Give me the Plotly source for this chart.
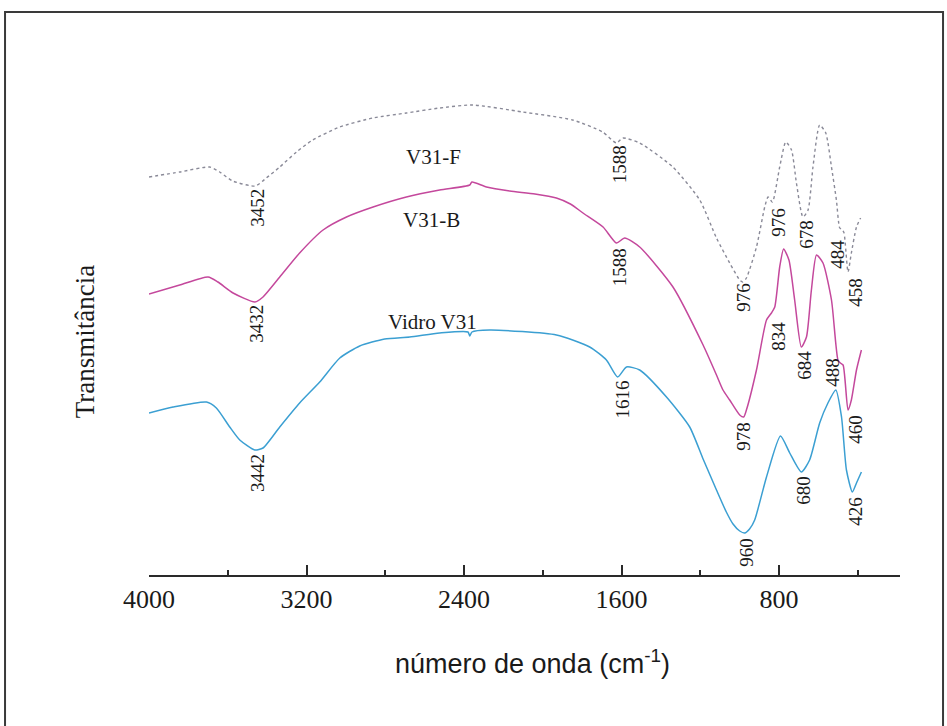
import plotly.graph_objects as go

# ---- data (wavenumber cm-1, transmittance in arbitrary units) ----
f_wn = [4000, 3844, 3692, 3641, 3575, 3460, 3404, 3336, 3251, 3169, 3031, 2864, 2693, 2524, 2356,
        2102, 1848, 1696, 1626, 1594, 1508, 1340, 1203, 1118, 1051, 1000, 985, 966, 915, 873, 856,
        834, 797, 766, 737, 712, 679, 653, 628, 594, 563, 534, 509, 492, 478, 470, 450, 433, 407, 386]
f_t = [398, 403, 408, 403, 394, 389, 397, 408, 423, 435, 448, 457, 462, 467, 470,
       463, 455, 443, 432, 437, 432, 408, 375, 337, 312, 295, 293, 297, 328, 368, 378,
       373, 408, 433, 425, 392, 358, 365, 408, 450, 442, 408, 375, 347, 345, 342, 303, 322, 348, 357]

b_wn = [4000, 3844, 3700, 3650, 3573, 3462, 3421, 3336, 3235, 3116, 2997, 2862, 2693, 2524, 2371,
        2360, 2286, 2168, 2040, 1931, 1860, 1796, 1694, 1626, 1584, 1508, 1339, 1186, 1118, 1085,
        1051, 1000, 980, 966, 915, 864, 839, 822, 797, 777, 750, 721, 687, 661, 636, 610, 577, 534,
        501, 489, 475, 450, 433, 407, 382]
b_t = [281, 290, 298, 293, 282, 273, 278, 298, 322, 345, 358, 368, 378, 385, 390,
       393, 388, 384, 381, 377, 371, 362, 348, 332, 337, 328, 288, 230, 200, 185,
       175, 160, 158, 165, 205, 255, 262, 268, 308, 326, 315, 275, 228, 238, 285, 320, 312, 275,
       215, 212, 210, 165, 175, 205, 225]

v_wn = [4000, 3878, 3708, 3658, 3590, 3539, 3463, 3421, 3336, 3235, 3133, 3031, 2930, 2803, 2676,
        2524, 2380, 2371, 2360, 2270, 1931, 1762, 1677, 1620, 1575, 1508, 1372, 1254, 1186, 1118,
        1068, 1034, 1000, 975, 950, 924, 864, 793, 746, 687, 645, 594, 552, 512, 483, 458, 428,
        407, 382]
v_t = [162, 168, 173, 167, 148, 135, 125, 127, 148, 172, 193, 217, 229, 236, 238,
       242, 243, 239, 243, 245, 240, 228, 215, 198, 208, 205, 178, 148, 116, 85,
       63, 51, 44, 42, 46, 55, 98, 139, 122, 103, 115, 152, 172, 185, 158, 105, 83,
       92, 103]

series_names = ["V31-F", "V31-B", "Vidro V31"]
series_label_wn = [2554, 2564, 2559]
series_label_t = [418, 355, 253]

peak_text = ["3452", "3432", "3442", "1588", "1588", "1616", "976", "976", "678", "484", "458",
             "834", "684", "488", "978", "460", "680", "426", "960"]
peak_wn = [3453, 3458, 3452, 1612, 1612, 1600, 985, 807, 665, 507, 416,
           807, 675, 533, 985, 416, 680, 416, 970]
peak_t = [367, 251, 102, 411, 308, 175, 278, 353, 341, 321, 283,
          239, 210, 203, 139, 146, 85, 64, 23]

tick_vals = [4000, 3200, 2400, 1600, 800]
tick_text = ["4000", "3200", "2400", "1600", "800"]

# ---- figure ----
fig = go.Figure()
fig.add_trace(go.Scatter(x=f_wn, y=f_t, mode="lines", name=series_names[0],
                         line=dict(color="#8a8a98", width=1.4, dash="dot", shape="spline", smoothing=0.6)))
fig.add_trace(go.Scatter(x=b_wn, y=b_t, mode="lines", name=series_names[1],
                         line=dict(color="#c4489c", width=1.5, shape="spline", smoothing=0.6)))
fig.add_trace(go.Scatter(x=v_wn, y=v_t, mode="lines", name=series_names[2],
                         line=dict(color="#3b9fd2", width=1.5, shape="spline", smoothing=0.6)))

serif = "Liberation Serif"
ann = []
for name, xw, yt in zip(series_names, series_label_wn, series_label_t):
    ann.append(dict(x=xw, y=yt, xref="x", yref="y", text=name, showarrow=False,
                    font=dict(family=serif, size=21, color="#1a1a1a")))
for t, xw, yt in zip(peak_text, peak_wn, peak_t):
    ann.append(dict(x=xw, y=yt, xref="x", yref="y", text=t, showarrow=False, textangle=-90,
                    font=dict(family=serif, size=19, color="#1a1a1a")))
ann.append(dict(x=-0.0852, y=0.454, xref="paper", yref="paper", text="Transmitância",
                showarrow=False, textangle=-90, xanchor="center", yanchor="middle",
                font=dict(family=serif, size=27, color="#1a1a1a")))
ann.append(dict(x=0.511, y=-0.169, xref="paper", yref="paper",
                text="número de onda (cm<sup>-1</sup>)", showarrow=False,
                xanchor="center", yanchor="middle",
                font=dict(family="Liberation Sans", size=27, color="#1a1a1a")))

fig.update_layout(
    width=947, height=726,
    margin=dict(l=149, r=47, t=60, b=151),
    paper_bgcolor="white", plot_bgcolor="white",
    showlegend=False,
    annotations=ann,
    shapes=[dict(type="rect", xref="paper", yref="paper", x0=-0.1917, x1=1.0573, y0=-0.33, y1=1.0932,
                 line=dict(color="#3a3a3a", width=2), fillcolor="rgba(0,0,0,0)", layer="below")],
    xaxis=dict(range=[4000, 186], showgrid=False, zeroline=False,
               showline=True, linecolor="#2a2a2a", linewidth=2,
               ticks="inside", ticklen=10, tickwidth=2, tickcolor="#2a2a2a",
               tickvals=tick_vals, ticktext=tick_text,
               minor=dict(ticks="inside", ticklen=5, tickwidth=2, tickcolor="#2a2a2a", dtick=400, tick0=0),
               tickfont=dict(family=serif, size=26, color="#1a1a1a")),
    yaxis=dict(range=[0, 515], visible=False),
)

fig.write_html("out.html")
